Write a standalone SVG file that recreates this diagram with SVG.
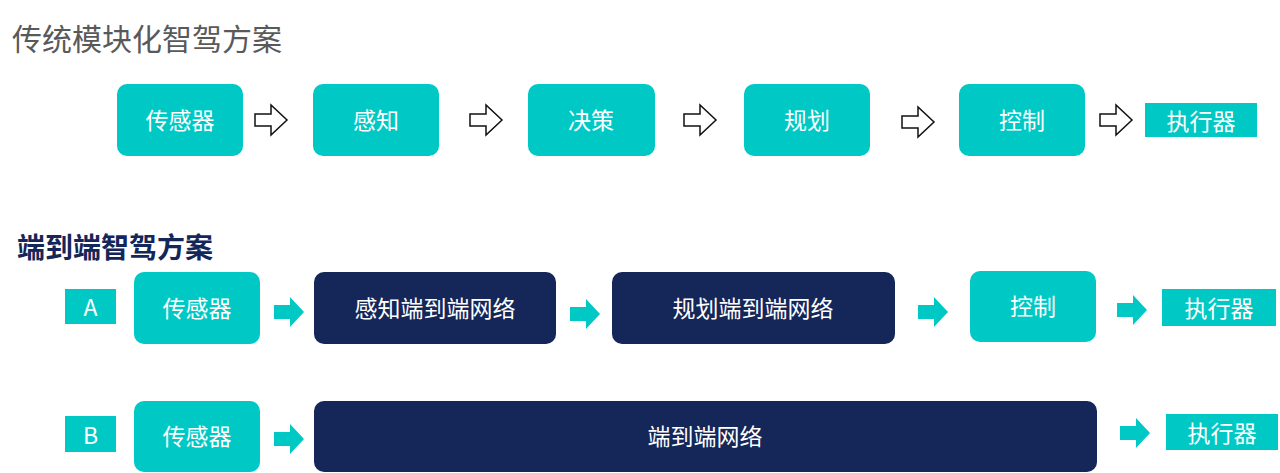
<svg xmlns="http://www.w3.org/2000/svg" width="1280" height="473" viewBox="0 0 1280 473">
<defs>
<style>
text{font-family:"Noto Sans CJK SC","Liberation Sans",sans-serif;}
.t{fill:#00c9c5;}
.n{fill:#152659;}
.lbl{fill:#fff;font-size:23px;text-anchor:middle;dominant-baseline:central;}
.ha{fill:#fff;stroke:#111;stroke-width:1.5;}
.fa{fill:#00c9c5;}
</style>
<path id="ho" d="M0,-6 H16 V-15 L32,0 L16,15 V6 H0 Z"/>
<path id="fo" d="M0,-7 H16 V-15 L30,0 L16,15 V7 H0 Z"/>
</defs>
<rect width="1280" height="473" fill="#fff"/>
<text x="12" y="50" font-size="30" fill="#595959">传统模块化智驾方案</text>
<text x="17" y="258" font-size="28" fill="#152659" font-weight="bold">端到端智驾方案</text>

<g id="r1-sensor"><rect class="t" x="117" y="84" width="126" height="72" rx="10"/><text class="lbl" x="180" y="119">传感器</text></g>
<g id="r1-perc"><rect class="t" x="313" y="84" width="126" height="72" rx="10"/><text class="lbl" x="376" y="119">感知</text></g>
<g id="r1-dec"><rect class="t" x="528" y="84" width="127" height="72" rx="10"/><text class="lbl" x="591" y="119">决策</text></g>
<g id="r1-plan"><rect class="t" x="744" y="84" width="126" height="72" rx="10"/><text class="lbl" x="807" y="119">规划</text></g>
<g id="r1-ctrl"><rect class="t" x="959" y="84" width="126" height="72" rx="10"/><text class="lbl" x="1022" y="119">控制</text></g>
<g id="r1-exec"><rect class="t" x="1145" y="103" width="112" height="34"/><text class="lbl" x="1201" y="120">执行器</text></g>

<g id="a-label"><rect class="t" x="65" y="289" width="51" height="35"/><text class="lbl" x="90.5" y="306">A</text></g>
<g id="a-sensor"><rect class="t" x="134" y="272" width="126" height="72" rx="10"/><text class="lbl" x="197" y="307">传感器</text></g>
<g id="a-perc"><rect class="n" x="314" y="272" width="242" height="72" rx="10"/><text class="lbl" x="435" y="307">感知端到端网络</text></g>
<g id="a-plan"><rect class="n" x="612" y="272" width="283" height="72" rx="10"/><text class="lbl" x="753" y="307">规划端到端网络</text></g>
<g id="a-ctrl"><rect class="t" x="970" y="271" width="126" height="71" rx="10"/><text class="lbl" x="1033" y="305">控制</text></g>
<g id="a-exec"><rect class="t" x="1162" y="289" width="114" height="37"/><text class="lbl" x="1219" y="307">执行器</text></g>

<g id="b-label"><rect class="t" x="65" y="416" width="51" height="36"/><text class="lbl" x="90.5" y="434">B</text></g>
<g id="b-sensor"><rect class="t" x="134" y="401" width="126" height="71" rx="10"/><text class="lbl" x="197" y="435">传感器</text></g>
<g id="b-net"><rect class="n" x="314" y="401" width="783" height="71" rx="10"/><text class="lbl" x="705" y="435">端到端网络</text></g>
<g id="b-exec"><rect class="t" x="1166" y="414" width="112" height="36"/><text class="lbl" x="1222" y="432">执行器</text></g>

<g id="connectors">
<use href="#ho" class="ha" x="255" y="120"/>
<use href="#ho" class="ha" x="470" y="120"/>
<use href="#ho" class="ha" x="684" y="120"/>
<use href="#ho" class="ha" x="902" y="122"/>
<use href="#ho" class="ha" x="1100" y="120"/>
<use href="#fo" class="fa" x="274" y="312"/>
<use href="#fo" class="fa" x="570" y="314"/>
<use href="#fo" class="fa" x="918" y="312"/>
<use href="#fo" class="fa" x="1117" y="310"/>
<use href="#fo" class="fa" x="274" y="439"/>
<use href="#fo" class="fa" x="1120" y="433"/>
</g>
</svg>
